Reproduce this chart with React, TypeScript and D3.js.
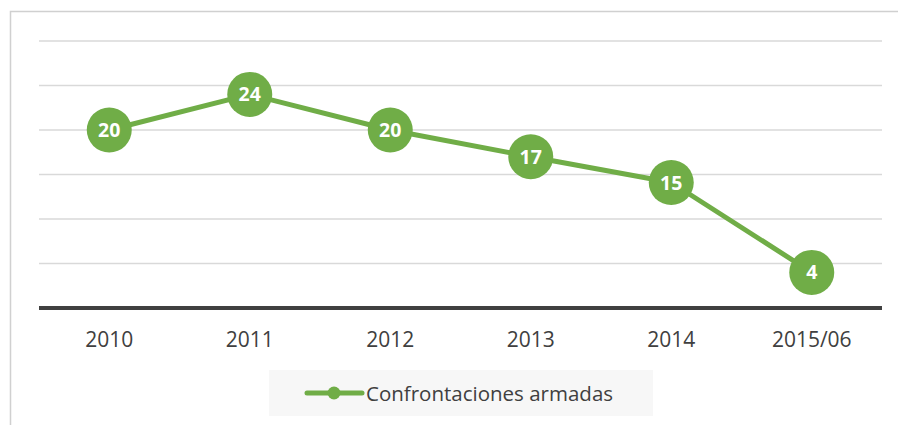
import { line, scaleLinear, scalePoint, select } from "d3";
import React, { useEffect, useRef } from "react";

const categories = ["2010", "2011", "2012", "2013", "2014", "2015/06"];
const values = [20, 24, 20, 17, 14.1, 4];
const valueLabels = ["20", "24", "20", "17", "15", "4"];
const gridTicks = [5, 10, 15, 20, 25, 30];
const seriesName = "Confrontaciones armadas";

const GREEN = "#70ad47";
const TEXT = "#404040";
const FONT = "'Open Sans', 'Noto Sans', sans-serif";

function App() {
  const svgRef = useRef<SVGSVGElement>(null);

  useEffect(() => {
    const svg = select(svgRef.current);
    svg.selectAll("*").remove();

    const xScale = scalePoint<string>()
      .domain(categories)
      .range([39, 882])
      .padding(0.5);
    const yScale = scaleLinear().domain([0, 30]).range([308, 41]);

    // outer frame (cut off at right and bottom)
    svg
      .append("rect")
      .attr("x", 10.5)
      .attr("y", 11.5)
      .attr("width", 920)
      .attr("height", 440)
      .attr("fill", "none")
      .attr("stroke", "#d0d0d0")
      .attr("stroke-width", 1.5);

    svg
      .selectAll(".grid")
      .data(gridTicks)
      .join("line")
      .attr("class", "grid")
      .attr("x1", 39)
      .attr("x2", 882)
      .attr("y1", (d) => yScale(d))
      .attr("y2", (d) => yScale(d))
      .attr("stroke", "#d9d9d9")
      .attr("stroke-width", 1.5);

    svg
      .append("line")
      .attr("x1", 39)
      .attr("x2", 882)
      .attr("y1", yScale(0))
      .attr("y2", yScale(0))
      .attr("stroke", TEXT)
      .attr("stroke-width", 4);

    svg
      .selectAll(".xlabel")
      .data(categories)
      .join("text")
      .attr("class", "xlabel")
      .attr("x", (d) => xScale(d)!)
      .attr("y", 347)
      .attr("text-anchor", "middle")
      .style("font-family", FONT)
      .style("font-size", "21px")
      .attr("fill", TEXT)
      .text((d) => d);

    const myLine = line<number>()
      .x((d, i) => xScale(categories[i])!)
      .y((d) => yScale(d));

    svg
      .append("path")
      .datum(values)
      .attr("d", myLine)
      .attr("fill", "none")
      .attr("stroke", GREEN)
      .attr("stroke-width", 5)
      .attr("stroke-linejoin", "round");

    svg
      .selectAll(".dots")
      .data(values)
      .join("circle")
      .attr("class", "dots")
      .attr("cx", (d, i) => xScale(categories[i])!)
      .attr("cy", (d) => yScale(d))
      .attr("r", 22.5)
      .attr("fill", GREEN);

    svg
      .selectAll(".vlabel")
      .data(values)
      .join("text")
      .attr("class", "vlabel")
      .attr("x", (d, i) => xScale(categories[i])!)
      .attr("y", (d) => yScale(d))
      .attr("dy", "0.36em")
      .attr("text-anchor", "middle")
      .style("font-family", FONT)
      .style("font-size", "19.5px")
      .style("font-weight", "bold")
      .attr("fill", "#ffffff")
      .text((d, i) => valueLabels[i]);

    // legend
    const legend = svg.append("g");
    legend
      .append("rect")
      .attr("x", 269)
      .attr("y", 370)
      .attr("width", 384)
      .attr("height", 46)
      .attr("fill", "#f7f7f7");
    legend
      .append("line")
      .attr("x1", 307)
      .attr("x2", 362)
      .attr("y1", 393)
      .attr("y2", 393)
      .attr("stroke", GREEN)
      .attr("stroke-width", 5)
      .attr("stroke-linecap", "round");
    legend
      .append("circle")
      .attr("cx", 334)
      .attr("cy", 393)
      .attr("r", 6.5)
      .attr("fill", GREEN);
    legend
      .append("text")
      .attr("x", 366)
      .attr("y", 400.5)
      .style("font-family", FONT)
      .style("font-size", "20.5px")
      .attr("fill", TEXT)
      .text(seriesName);
  }, []);

  return (
    <svg
      ref={svgRef}
      width={898}
      height={425}
      style={{ position: "absolute", left: 0, top: 0, background: "#ffffff" }}
    />
  );
}

export default App;
